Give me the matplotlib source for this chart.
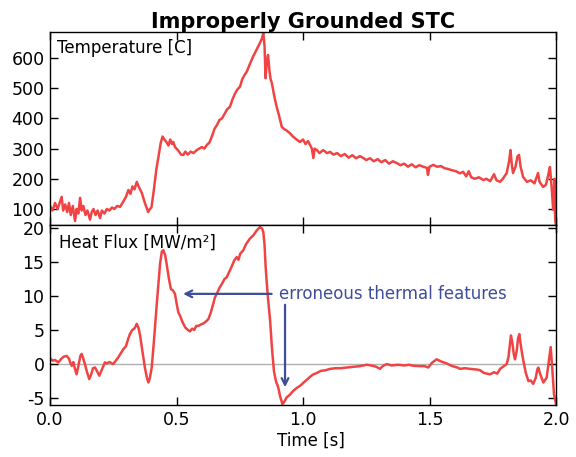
import matplotlib
matplotlib.use("Agg")
import matplotlib.pyplot as plt
import numpy as np

# ---------------- data ----------------
temp_t = [0.000, 0.010, 0.020, 0.030, 0.040, 0.046, 0.052, 0.060, 0.068, 0.075, 0.082, 0.090,
          0.099, 0.105, 0.112, 0.119, 0.125, 0.132, 0.140, 0.148, 0.158, 0.165, 0.172, 0.180,
          0.188, 0.198, 0.205, 0.215, 0.225, 0.235, 0.245, 0.255, 0.265, 0.277, 0.290, 0.300,
          0.310, 0.318, 0.326, 0.334, 0.343, 0.350, 0.363, 0.375, 0.388, 0.395, 0.401, 0.410,
          0.420, 0.430, 0.438, 0.445, 0.452, 0.460, 0.468, 0.475, 0.482, 0.487, 0.494, 0.500,
          0.510, 0.518, 0.527, 0.535, 0.545, 0.556, 0.567, 0.580, 0.590, 0.600, 0.610, 0.620,
          0.630, 0.640, 0.650, 0.660, 0.670, 0.680, 0.690, 0.700, 0.711, 0.720, 0.730, 0.740,
          0.751, 0.760, 0.770, 0.778, 0.790, 0.803, 0.815, 0.830, 0.838, 0.843, 0.848, 0.852,
          0.857, 0.862, 0.867, 0.872, 0.877, 0.885, 0.890, 0.896, 0.905, 0.916, 0.925, 0.935,
          0.948, 0.960, 0.975, 0.988, 1.000, 1.010, 1.020, 1.028, 1.035, 1.041, 1.046, 1.055,
          1.065, 1.080, 1.095, 1.107, 1.120, 1.135, 1.150, 1.165, 1.180, 1.195, 1.210, 1.225,
          1.238, 1.250, 1.265, 1.280, 1.295, 1.310, 1.325, 1.340, 1.355, 1.371, 1.385, 1.400,
          1.415, 1.430, 1.445, 1.460, 1.475, 1.490, 1.494, 1.500, 1.515, 1.530, 1.545, 1.560,
          1.575, 1.590, 1.605, 1.620, 1.633, 1.645, 1.655, 1.665, 1.680, 1.695, 1.713, 1.725,
          1.740, 1.755, 1.765, 1.779, 1.790, 1.805, 1.815, 1.820, 1.825, 1.830, 1.840, 1.848,
          1.854, 1.860, 1.870, 1.885, 1.900, 1.915, 1.929, 1.935, 1.949, 1.960, 1.970, 1.976,
          1.982, 1.989, 1.994, 1.997, 2.000]
temp_v = [110, 95, 120, 100, 125, 140, 95, 115, 90, 120, 80, 110,
          60, 100, 85, 137, 95, 110, 80, 95, 65, 90, 100, 80,
          95, 70, 95, 85, 100, 95, 105, 100, 110, 107, 125, 140,
          163, 150, 175, 165, 190, 175, 153, 120, 90, 100, 105, 160,
          229, 280, 320, 340, 330, 322, 310, 330, 315, 322, 305, 300,
          290, 280, 279, 290, 280, 290, 285, 295, 300, 305, 300, 312,
          320, 340, 365, 378, 395, 400, 415, 430, 438, 460, 480, 495,
          505, 530, 545, 555, 580, 605, 625, 650, 665, 683, 640, 533,
          590, 610, 560, 530, 517, 480, 460, 438, 410, 372, 365, 360,
          351, 340, 330, 322, 330, 315, 325, 312, 300, 269, 300, 295,
          285, 295, 285, 289, 280, 285, 275, 282, 270, 278, 268, 275,
          269, 262, 268, 258, 265, 255, 262, 250, 258, 252, 245, 250,
          240, 248, 238, 245, 240, 236, 213, 240, 246, 240, 242, 235,
          232, 228, 225, 218, 223, 208, 225, 205, 200, 205, 196, 200,
          192, 215, 195, 190, 200, 219, 260, 295, 250, 219, 240, 275,
          279, 240, 206, 190, 195, 185, 219, 190, 173, 180, 215, 239,
          180, 97, 200, 60, 47]

flux_t = [0.000, 0.010, 0.020, 0.033, 0.045, 0.055, 0.066, 0.075, 0.080, 0.086, 0.092, 0.098,
          0.105, 0.112, 0.120, 0.125, 0.130, 0.138, 0.145, 0.155, 0.162, 0.170, 0.178, 0.185,
          0.195, 0.205, 0.217, 0.225, 0.235, 0.250, 0.260, 0.270, 0.280, 0.290, 0.300, 0.310,
          0.316, 0.325, 0.333, 0.338, 0.343, 0.350, 0.356, 0.365, 0.375, 0.383, 0.389, 0.395,
          0.402, 0.410, 0.416, 0.422, 0.428, 0.435, 0.442, 0.448, 0.455, 0.461, 0.470, 0.478,
          0.486, 0.494, 0.500, 0.507, 0.514, 0.522, 0.534, 0.545, 0.553, 0.562, 0.570, 0.578,
          0.586, 0.596, 0.608, 0.618, 0.626, 0.635, 0.645, 0.652, 0.659, 0.670, 0.680, 0.690,
          0.698, 0.708, 0.718, 0.728, 0.738, 0.745, 0.752, 0.764, 0.775, 0.790, 0.804, 0.815,
          0.822, 0.830, 0.838, 0.843, 0.848, 0.852, 0.856, 0.862, 0.870, 0.877, 0.885, 0.893,
          0.902, 0.910, 0.919, 0.928, 0.935, 0.948, 0.962, 0.975, 0.988, 1.000, 1.015, 1.030,
          1.041, 1.055, 1.070, 1.090, 1.107, 1.130, 1.150, 1.173, 1.200, 1.225, 1.252, 1.270,
          1.290, 1.304, 1.315, 1.331, 1.350, 1.375, 1.400, 1.420, 1.436, 1.460, 1.480, 1.495,
          1.510, 1.528, 1.545, 1.568, 1.590, 1.610, 1.621, 1.640, 1.660, 1.687, 1.700, 1.715,
          1.739, 1.755, 1.768, 1.779, 1.790, 1.805, 1.812, 1.818, 1.822, 1.828, 1.833, 1.838,
          1.845, 1.850, 1.855, 1.860, 1.866, 1.871, 1.880, 1.891, 1.900, 1.910, 1.920, 1.926,
          1.930, 1.938, 1.950, 1.963, 1.972, 1.979, 1.985, 1.992, 2.000]
flux_v = [0.9, 0.5, 0.6, 0.25, 0.8, 1.1, 1.2, 0.8, 0.2, -0.25, 0.3, -0.6,
          -1.5, -0.3, 1.2, 1.5, 1.0, 0.0, -1.0, -2.2, -1.6, -0.6, -0.5, -1.0,
          -1.7, -0.8, 0.25, 0.1, 0.3, 0.0, 0.5, 1.0, 1.6, 2.2, 2.6, 3.8,
          4.4, 5.0, 5.2, 5.5, 5.9, 5.3, 4.2, 2.0, -0.5, -2.0, -2.7, -2.0,
          -0.5, 3.0, 6.0, 8.8, 11.5, 14.7, 16.5, 16.7, 16.0, 14.7, 12.5, 11.0,
          10.8, 10.3, 9.0, 7.6, 7.1, 6.3, 5.4, 5.0, 4.8, 5.2, 5.0, 5.6,
          5.6, 5.8, 6.0, 6.3, 6.6, 7.5, 8.8, 9.8, 10.3, 11.2, 11.8, 12.5,
          12.7, 13.5, 14.3, 15.2, 15.7, 15.3, 16.2, 16.7, 17.6, 18.4, 18.9, 19.5,
          19.8, 20.1, 19.9, 19.4, 17.5, 14.5, 12.3, 9.5, 6.4, 2.5, -1.0, -2.5,
          -3.4, -4.8, -5.9, -5.4, -4.9, -4.5, -3.9, -3.5, -3.2, -2.8, -2.3, -1.8,
          -1.5, -1.3, -1.0, -0.9, -0.7, -0.6, -0.6, -0.5, -0.4, -0.3, -0.1, -0.2,
          -0.4, -0.7, -0.3, 0.0, -0.2, -0.1, -0.2, -0.1, -0.25, -0.3, -0.3, -0.5,
          0.2, 0.7, 0.4, 0.1, -0.3, -0.5, -0.7, -0.6, -0.7, -0.8, -0.9, -1.3,
          -1.5, -1.2, -1.4, -0.7, -0.4, 0.0, 1.0, 3.0, 4.2, 3.0, 1.5, 0.7,
          2.0, 3.8, 4.4, 3.0, 1.5, 0.5, -1.2, -2.5, -2.4, -2.9, -2.0, -0.8,
          -0.5, -1.5, -2.7, -2.0, 0.5, 2.5, -0.5, -4.4, -5.9]

temp_ticks = [100, 200, 300, 400, 500, 600]
flux_ticks = [-5, 0, 5, 10, 15, 20]
x_ticks = [0.0, 0.5, 1.0, 1.5, 2.0]
x_tick_labels = ['0.0', '0.5', '1.0', '1.5', '2.0']

title = "Improperly Grounded STC"
temp_label = "Temperature [C]"
flux_label = "Heat Flux [MW/m²]"
x_label = "Time [s]"
note = "erroneous thermal features"

# ---------------- figure ----------------
plt.rcParams['font.family'] = ['DejaVu Sans']
plt.rcParams['axes.unicode_minus'] = False
RED = '#f04444'
BLUE = '#3d4d99'

fig = plt.figure(figsize=(5.76, 4.57), dpi=100)
L, R = 50 / 576, 556 / 576
top_y, mid_y, bot_y = 32 / 457, 225 / 457, 405 / 457
ax1 = fig.add_axes([L, 1 - mid_y, R - L, mid_y - top_y])
ax2 = fig.add_axes([L, 1 - bot_y, R - L, bot_y - mid_y])

for ax in (ax1, ax2):
    ax.tick_params(direction='in', top=True, right=True, length=6, width=1,
                   labelsize=12.5, pad=4)
    for s in ax.spines.values():
        s.set_linewidth(1.0)
    ax.set_xlim(0, 2.0)
    ax.set_xticks(x_ticks)

ax1.plot(temp_t, temp_v, color=RED, lw=1.8)
ax1.set_ylim(47, 686)
ax1.set_yticks(temp_ticks)
ax1.tick_params(labelbottom=False)
ax1.text(0.013, 0.965, temp_label, transform=ax1.transAxes, ha='left', va='top',
         fontsize=12)
ax1.set_title(title, fontsize=15, fontweight='bold', pad=3)

ax2.axhline(0, color='#b0b0b0', lw=1.0, zorder=1)
ax2.plot(flux_t, flux_v, color=RED, lw=1.8, zorder=2)
ax2.set_ylim(-6.0, 20.4)
ax2.set_yticks(flux_ticks)
ax2.set_xticklabels(x_tick_labels)
ax2.set_xlabel(x_label, fontsize=12)
ax2.xaxis.set_label_coords(0.515, -0.15)
ax2.text(0.017, 0.95, flux_label, transform=ax2.transAxes, ha='left', va='top',
         fontsize=12)

ax2.text(0.905, 10.35, note, color=BLUE, fontsize=12, ha='left', va='center')
ax2.annotate('', xy=(0.526, 10.3), xytext=(0.876, 10.3),
             arrowprops=dict(arrowstyle='->', color=BLUE, lw=1.6, mutation_scale=12,
                             shrinkA=0, shrinkB=0))
ax2.annotate('', xy=(0.929, -3.4), xytext=(0.929, 8.7),
             arrowprops=dict(arrowstyle='->', color=BLUE, lw=1.6, mutation_scale=12,
                             shrinkA=0, shrinkB=0))

fig.savefig('out.png', dpi=100)
